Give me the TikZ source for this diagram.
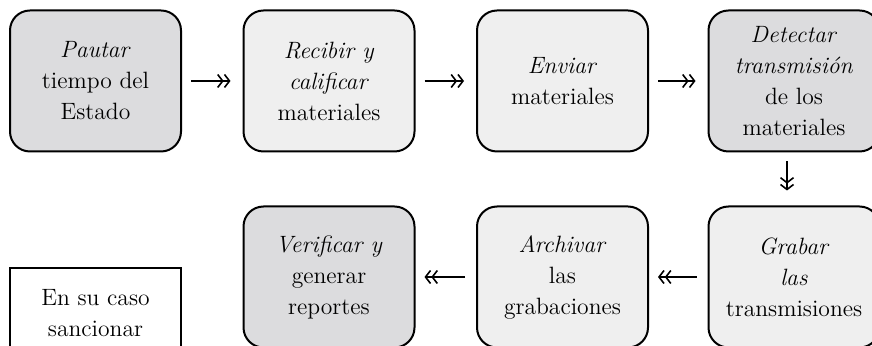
\documentclass[tikz,border=0pt]{standalone}
\usetikzlibrary{arrows.meta}
\definecolor{cajaoscura}{RGB}{220,220,222}
\definecolor{cajaclara}{RGB}{239,239,239}
\tikzset{
  paso/.style={draw,line width=1pt,rounded corners=10pt,minimum width=85.5pt,
    minimum height=70.5pt,align=center,inner sep=2pt,
    font=\fontsize{11.8}{15.5}\selectfont},
  oscuro/.style={paso,fill=cajaoscura},
  claro/.style={paso,fill=cajaclara},
  nota/.style={draw,line width=0.8pt,minimum width=85.5pt,minimum height=45pt,
    align=center,font=\fontsize{11.8}{15.5}\selectfont},
  flecha/.style={line width=0.8pt,
    -{Straight Barb[length=2.5pt,width=6.5pt]Straight Barb[length=2.5pt,width=6.5pt]}}
}
\begin{document}
\begin{tikzpicture}[x=0.5pt,y=-0.5pt]
\useasboundingbox (0,0) rectangle (872,346);
\clip (0,0) rectangle (872,346);
\coordinate (C1) at (95.5,81);
\coordinate (C2) at (329,81);
\coordinate (C3) at (562.5,81);
\coordinate (C4) at (794,81);
\coordinate (C5) at (794,277);
\coordinate (C6) at (562.5,277);
\coordinate (C7) at (329,277);
\coordinate (C8) at (95.5,313);
\node[oscuro] (P) at (C1) {\textit{Pautar}\\tiempo del\\Estado};
\node[claro] (R) at (C2) {\textit{Recibir y}\\\textit{calificar}\\materiales};
\node[claro] (E) at (C3) {\textit{Enviar}\\materiales};
\node[oscuro] (D) at (C4) {\textit{Detectar}\\\textit{transmisión}\\de los\\materiales};
\node[claro] (G) at (C5) {\textit{Grabar}\\\textit{las}\\transmisiones};
\node[claro] (A) at (C6) {\textit{Archivar}\\las\\grabaciones};
\node[oscuro] (V) at (C7) {\textit{Verificar y}\\generar\\reportes};
\node[nota] (S) at (C8) {En su caso\\sancionar};
\draw[flecha,shorten <=4.5pt,shorten >=6pt] (P) -- (R);
\draw[flecha,shorten <=4.5pt,shorten >=6pt] (R) -- (E);
\draw[flecha,shorten <=4.5pt,shorten >=6pt] (E) -- (D);
\draw[flecha,shorten <=4.5pt,shorten >=7.5pt] ([xshift=-3.5pt]D.south) -- ([xshift=-3.5pt]G.north);
\draw[flecha,shorten <=5.5pt,shorten >=4.5pt] (G) -- (A);
\draw[flecha,shorten <=5.5pt,shorten >=4.5pt] (A) -- (V);
\end{tikzpicture}
\end{document}
